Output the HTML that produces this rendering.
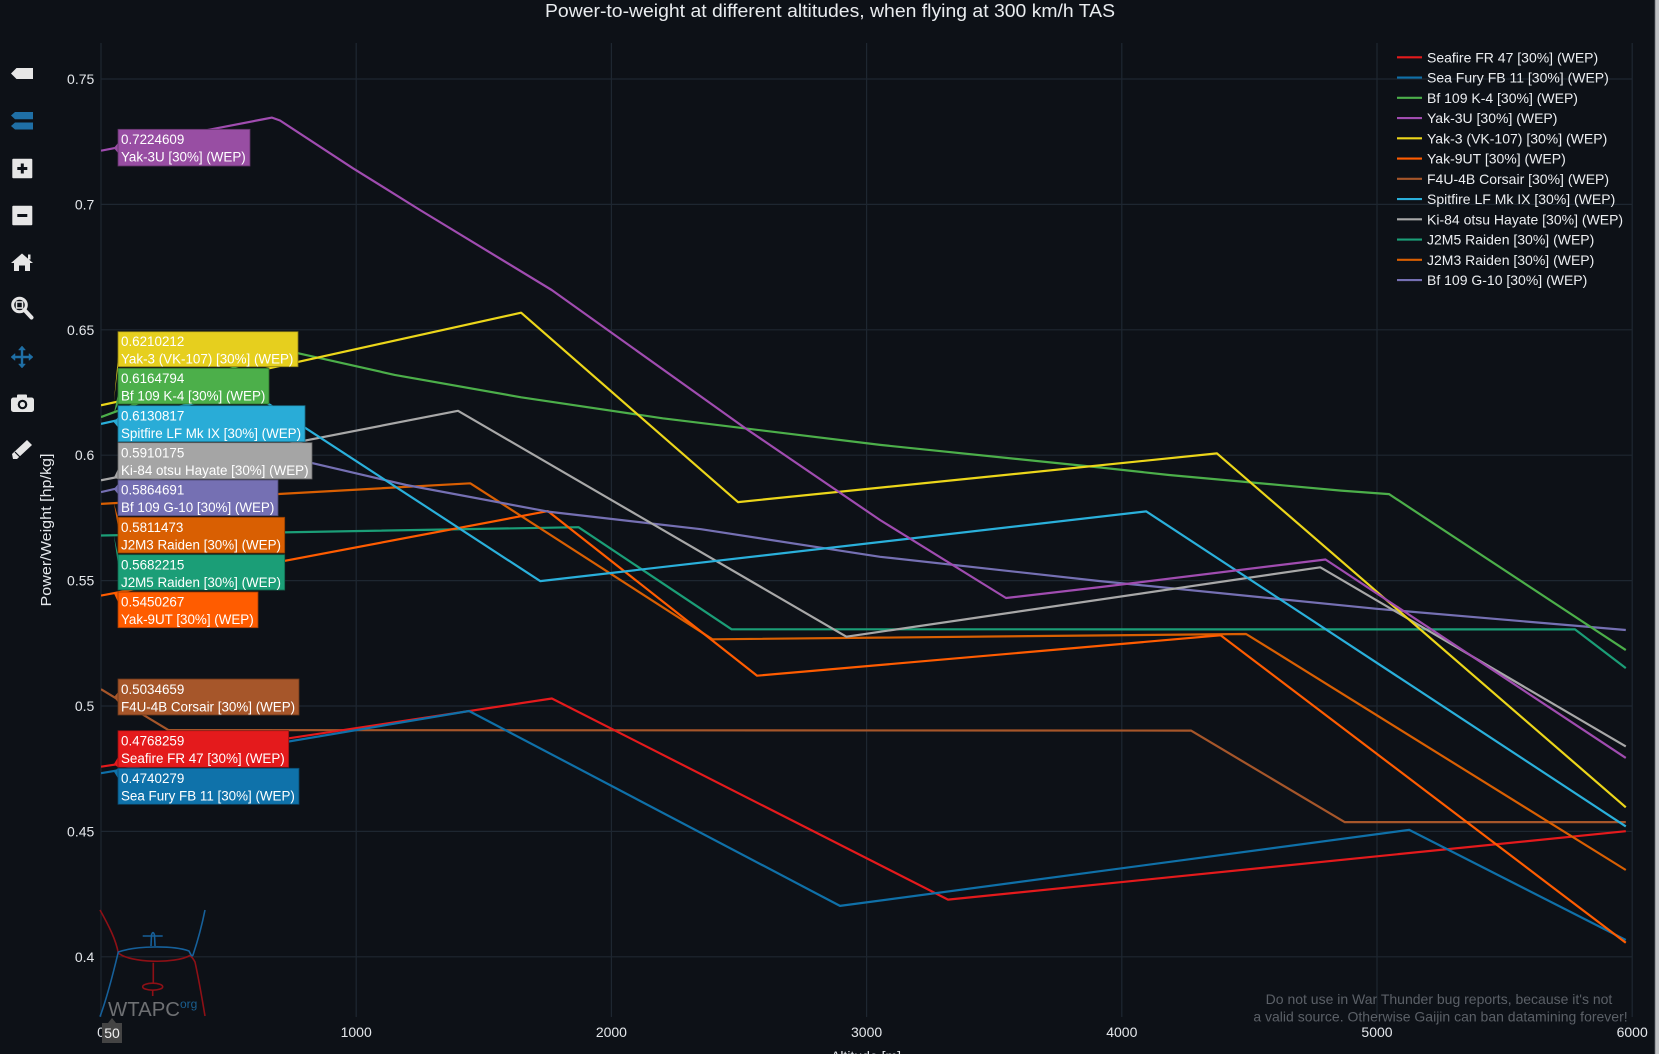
<!DOCTYPE html>
<html>
<head>
<meta charset="utf-8">
<style>
html,body{margin:0;padding:0;background:#0d1117;overflow:hidden;}
svg{display:block;font-family:"Liberation Sans",Arial,sans-serif;}
</style>
</head>
<body>
<svg width="1659" height="1054" viewBox="0 0 1659 1054" xmlns="http://www.w3.org/2000/svg">
<rect x="0" y="0" width="1659" height="1054" fill="#0d1117"/>

<!-- right edge strip -->
<rect x="1654" y="0" width="1.2" height="1054" fill="#2e3238"/>
<rect x="1655.2" y="0" width="3.8" height="1054" fill="#bfc1c4"/>

<!-- title -->
<text x="830" y="17" font-size="18" fill="#e9ecef" text-anchor="middle" textLength="570" lengthAdjust="spacingAndGlyphs">Power-to-weight at different altitudes, when flying at 300 km/h TAS</text>

<!-- grid -->
<g stroke="#1e2731" stroke-width="1.2">
<line x1="101" y1="43" x2="101" y2="1017"/>
<line x1="356.2" y1="43" x2="356.2" y2="1017"/>
<line x1="611.4" y1="43" x2="611.4" y2="1017"/>
<line x1="866.6" y1="43" x2="866.6" y2="1017"/>
<line x1="1121.8" y1="43" x2="1121.8" y2="1017"/>
<line x1="1377" y1="43" x2="1377" y2="1017"/>
<line x1="1632.2" y1="43" x2="1632.2" y2="1017"/>
<line x1="101" y1="79" x2="1632.2" y2="79"/>
<line x1="101" y1="204.4" x2="1632.2" y2="204.4"/>
<line x1="101" y1="329.8" x2="1632.2" y2="329.8"/>
<line x1="101" y1="455.2" x2="1632.2" y2="455.2"/>
<line x1="101" y1="580.6" x2="1632.2" y2="580.6"/>
<line x1="101" y1="706" x2="1632.2" y2="706"/>
<line x1="101" y1="831.4" x2="1632.2" y2="831.4"/>
<line x1="101" y1="956.8" x2="1632.2" y2="956.8"/>
</g>

<!-- y tick labels -->
<g font-size="14" fill="#e4e7eb" text-anchor="end">
<text x="94.3" y="84">0.75</text>
<text x="94.3" y="209.4">0.7</text>
<text x="94.3" y="334.8">0.65</text>
<text x="94.3" y="460.2">0.6</text>
<text x="94.3" y="585.6">0.55</text>
<text x="94.3" y="711">0.5</text>
<text x="94.3" y="836.4">0.45</text>
<text x="94.3" y="961.8">0.4</text>
</g>

<!-- x tick labels -->
<g font-size="14" fill="#e4e7eb" text-anchor="middle">
<text x="101" y="1037">0</text>
<text x="356.2" y="1037">1000</text>
<text x="611.4" y="1037">2000</text>
<text x="866.6" y="1037">3000</text>
<text x="1121.8" y="1037">4000</text>
<text x="1377" y="1037">5000</text>
<text x="1632.2" y="1037">6000</text>
</g>

<!-- axis titles -->
<text x="866" y="1061" font-size="14" fill="#e4e7eb" text-anchor="middle">Altitude [m]</text>
<text transform="translate(51,530) rotate(-90)" font-size="15" fill="#e4e7eb" text-anchor="middle" textLength="153" lengthAdjust="spacingAndGlyphs">Power/Weight [hp/kg]</text>

<!-- watermark -->
<g font-size="14" fill="#5b6067" text-anchor="middle">
<text x="1439" y="1004">Do not use in War Thunder bug reports, because it's not</text>
<text x="1440.5" y="1021.7">a valid source. Otherwise Gaijin can ban datamining forever!</text>
</g>

<!-- logo -->
<g fill="none" stroke-width="1.6">
<path d="M100,910 C109,926 116,940 118.3,953 C130,963 175,964 190,955.5 C193,958 194,960 195,962 C199,980 202,998 205,1016" stroke="#8e1016"/>
<path d="M100,1016.7 C108,995 114,970 118.3,952 C135,946 172,945 189,951 C191,955 192,957 193,955 C198,940 202,925 205,910" stroke="#16609a"/>
<line x1="142.7" y1="936" x2="162.7" y2="936" stroke="#16609a"/>
<path d="M151,946 L151.5,935 Q153,930 154.5,935 L155,946" stroke="#16609a"/>
<line x1="153.3" y1="962.7" x2="153.3" y2="983" stroke="#8e1016"/>
<ellipse cx="152.7" cy="986.7" rx="10" ry="3.5" stroke="#8e1016"/>
<line x1="152.7" y1="990.2" x2="152.7" y2="996" stroke="#8e1016"/>
</g>
<text x="108" y="1016" font-size="20" fill="#6e7073" textLength="72" lengthAdjust="spacingAndGlyphs">WTAPC</text>
<text x="180" y="1008" font-size="12" fill="#1a5f90">org</text>

<!-- series -->
<defs><clipPath id="pc"><rect x="101" y="43" width="1532" height="974"/></clipPath></defs>
<g clip-path="url(#pc)" fill="none" stroke-width="2.2" stroke-linejoin="round">
<polyline stroke="#a6562a" points="101,689.2 168.4,730.1 1191,730.6 1344.6,822.1 1625.8,822.1"/>
<polyline stroke="#e41a1c" points="101,766.7 551.9,698.5 948,899.6 1625.8,831.2"/>
<polyline stroke="#0f70a8" points="101,773.2 469,711 840,905.9 1409.2,829.9 1625.8,940"/>
<polyline stroke="#1b9e77" points="101,535.5 578.5,527.2 731.6,629.3 1575,629.4 1625.8,668.1"/>
<polyline stroke="#d95f02" points="101,503.9 470.3,483.3 712.5,639.3 1246.1,634 1625.8,870"/>
<polyline stroke="#ff5c00" points="101,595.6 547.9,511.1 757.1,675.7 1220.6,635.3 1625.8,942.8"/>
<polyline stroke="#7570b3" points="101,492.1 266.9,453.9 312.6,463.2 406.2,485 547.9,511.6 701,529.2 880.1,556.8 1100.1,581.1 1375.5,608.7 1625.8,630"/>
<polyline stroke="#a8a8a8" points="101,480.3 458,410.8 846.4,636.7 1320.3,567.3 1625.8,746.4"/>
<polyline stroke="#2ab0db" points="101,423.9 249,391.2 540.2,581.1 1146.3,511.4 1625.8,826.4"/>
<polyline stroke="#4caf4a" points="101,417.1 284.7,348.6 299,353.4 394.7,374.9 521.1,397.3 662.7,418.3 880.1,444.9 1100.1,467.5 1169,475 1282.6,485.3 1341,490.6 1389,494.1 1625.8,650.1"/>
<polyline stroke="#ecd61a" points="101,405.3 521.1,312.7 738,502.1 1217,453.4 1625.8,807.3"/>
<polyline stroke="#a04cb0" points="101,150.7 262,119.5 272,117.6 280,120.5 353,168.3 420,210 551.7,290 745,428 880,520 1006,598 1100,587.1 1325.5,559.5 1625.8,757.9"/>
</g>

<!-- hover labels -->
<g font-size="13.4" fill="#ffffff">
<polygon points="113.8,148 118,143 118,153" fill="#984ea3"/>
<rect x="118" y="129.3" width="132" height="36.7" fill="#984ea3" stroke="#5e3366" stroke-width="0.8"/>
<text x="121" y="144">0.7224609</text><text x="121" y="161.5">Yak-3U [30%] (WEP)</text>

<polygon points="113.8,402.5 118,356.7 118,366.7" fill="#e6cf1e"/>
<rect x="118" y="331.7" width="180" height="35" fill="#e6cf1e" stroke="#8c7e16" stroke-width="0.8"/>
<text x="121" y="346">0.6210212</text><text x="121" y="363.5">Yak-3 (VK-107) [30%] (WEP)</text>

<polygon points="113.8,413.8 118,394 118,404" fill="#4caf4a"/>
<rect x="118" y="368.3" width="151" height="35.7" fill="#4caf4a" stroke="#2f6e2e" stroke-width="0.8"/>
<text x="121" y="383">0.6164794</text><text x="121" y="400.5">Bf 109 K-4 [30%] (WEP)</text>

<polygon points="113.8,422.3 118,417.3 118,427.3" fill="#29acd7"/>
<rect x="118" y="405.7" width="187" height="36" fill="#29acd7" stroke="#1a6d88" stroke-width="0.8"/>
<text x="121" y="420.5">0.6130817</text><text x="121" y="438">Spitfire LF Mk IX [30%] (WEP)</text>

<polygon points="113.8,477.8 118,469 118,479" fill="#a5a5a5"/>
<rect x="118" y="442.7" width="194" height="36.3" fill="#a5a5a5" stroke="#666" stroke-width="0.8"/>
<text x="121" y="457.5">0.5910175</text><text x="121" y="475">Ki-84 otsu Hayate [30%] (WEP)</text>

<polygon points="113.8,489.1 118,484.1 118,494.1" fill="#7570b3"/>
<rect x="118" y="480" width="160" height="35.7" fill="#7570b3" stroke="#4a4672" stroke-width="0.8"/>
<text x="121" y="494.7">0.5864691</text><text x="121" y="512.2">Bf 109 G-10 [30%] (WEP)</text>

<polygon points="113.8,502.6 118,517.3 118,527.3" fill="#d95f02"/>
<rect x="118" y="517.3" width="166.7" height="35.7" fill="#d95f02" stroke="#8a3c01" stroke-width="0.8"/>
<text x="121" y="532">0.5811473</text><text x="121" y="549.5">J2M3 Raiden [30%] (WEP)</text>

<polygon points="113.8,535 118,554.7 118,564.7" fill="#1b9e77"/>
<rect x="118" y="554.7" width="166.7" height="35.3" fill="#1b9e77" stroke="#11644b" stroke-width="0.8"/>
<text x="121" y="569.3">0.5682215</text><text x="121" y="586.8">J2M5 Raiden [30%] (WEP)</text>

<polygon points="113.8,593.1 118,592 118,602" fill="#ff5c00"/>
<rect x="118" y="592" width="140" height="35.7" fill="#ff5c00" stroke="#a23a00" stroke-width="0.8"/>
<text x="121" y="606.7">0.5450267</text><text x="121" y="624.2">Yak-9UT [30%] (WEP)</text>

<polygon points="113.8,697.2 118,692.2 118,702.2" fill="#a6562a"/>
<rect x="118" y="679" width="181" height="36" fill="#a6562a" stroke="#69361a" stroke-width="0.8"/>
<text x="121" y="693.8">0.5034659</text><text x="121" y="711.3">F4U-4B Corsair [30%] (WEP)</text>

<polygon points="113.8,764.2 118,757.3 118,767.3" fill="#e41a1c"/>
<rect x="118" y="730.7" width="170.7" height="36.6" fill="#e41a1c" stroke="#901012" stroke-width="0.8"/>
<text x="121" y="745.5">0.4768259</text><text x="121" y="763">Seafire FR 47 [30%] (WEP)</text>

<polygon points="113.8,771.5 118,768.3 118,778.3" fill="#0f72aa"/>
<rect x="118" y="768.3" width="181" height="36" fill="#0f72aa" stroke="#09486b" stroke-width="0.8"/>
<text x="121" y="783">0.4740279</text><text x="121" y="800.5">Sea Fury FB 11 [30%] (WEP)</text>
</g>

<!-- x hover label -->
<polygon points="112,1018 108,1023 116,1023" fill="#444"/>
<rect x="102" y="1023" width="20" height="20" fill="#444"/>
<text x="112" y="1038" font-size="14" fill="#f0f0f0" text-anchor="middle">50</text>

<!-- legend -->
<g stroke-width="2.2">
<line x1="1397" y1="57.3" x2="1422" y2="57.3" stroke="#e41a1c"/>
<line x1="1397" y1="77.55" x2="1422" y2="77.55" stroke="#0f70a8"/>
<line x1="1397" y1="97.8" x2="1422" y2="97.8" stroke="#4caf4a"/>
<line x1="1397" y1="118.05" x2="1422" y2="118.05" stroke="#a04cb0"/>
<line x1="1397" y1="138.3" x2="1422" y2="138.3" stroke="#ecd61a"/>
<line x1="1397" y1="158.55" x2="1422" y2="158.55" stroke="#ff5c00"/>
<line x1="1397" y1="178.8" x2="1422" y2="178.8" stroke="#a6562a"/>
<line x1="1397" y1="199.05" x2="1422" y2="199.05" stroke="#2ab0db"/>
<line x1="1397" y1="219.3" x2="1422" y2="219.3" stroke="#a8a8a8"/>
<line x1="1397" y1="239.55" x2="1422" y2="239.55" stroke="#1b9e77"/>
<line x1="1397" y1="259.8" x2="1422" y2="259.8" stroke="#d95f02"/>
<line x1="1397" y1="280.05" x2="1422" y2="280.05" stroke="#7570b3"/>
</g>
<g font-size="14" fill="#eceef1">
<text x="1427" y="62.3">Seafire FR 47 [30%] (WEP)</text>
<text x="1427" y="82.55">Sea Fury FB 11 [30%] (WEP)</text>
<text x="1427" y="102.8">Bf 109 K-4 [30%] (WEP)</text>
<text x="1427" y="123.05">Yak-3U [30%] (WEP)</text>
<text x="1427" y="143.3">Yak-3 (VK-107) [30%] (WEP)</text>
<text x="1427" y="163.55">Yak-9UT [30%] (WEP)</text>
<text x="1427" y="183.8">F4U-4B Corsair [30%] (WEP)</text>
<text x="1427" y="204.05">Spitfire LF Mk IX [30%] (WEP)</text>
<text x="1427" y="224.3">Ki-84 otsu Hayate [30%] (WEP)</text>
<text x="1427" y="244.55">J2M5 Raiden [30%] (WEP)</text>
<text x="1427" y="264.8">J2M3 Raiden [30%] (WEP)</text>
<text x="1427" y="285.05">Bf 109 G-10 [30%] (WEP)</text>
</g>

<!-- toolbar icons -->
<g fill="#e6e6e6">
<polygon points="11,73.5 16.5,68 33,68 33,79 16.5,79"/>
<rect x="12.3" y="158.7" width="20" height="19.6" rx="1"/>
<rect x="12.3" y="205.7" width="20" height="19.6" rx="1"/>
<polygon points="22,253.5 33,263 30,263 30,271 25,271 25,265.5 19,265.5 19,271 14,271 14,263 11,263"/>
<rect x="28" y="254.5" width="2.5" height="5"/>
<circle cx="19.5" cy="305" r="6.8" fill="none" stroke="#e6e6e6" stroke-width="3"/>
<rect x="16.5" y="302" width="6" height="6" fill="none" stroke="#e6e6e6" stroke-width="1.5"/>
<line x1="24.5" y1="310" x2="31.5" y2="317.5" stroke="#e6e6e6" stroke-width="4" stroke-linecap="round"/>
<rect x="11" y="397.5" width="23" height="14.5" rx="2.5"/>
<rect x="17" y="394.5" width="10" height="4" rx="1"/>
<polygon points="13,459 12,454 27,440 32,445 17,459"/>
</g>
<g fill="#0d1117">
<rect x="17.3" y="167" width="10" height="3"/>
<rect x="20.8" y="163.5" width="3" height="10"/>
<rect x="17.3" y="214" width="10" height="3"/>
<circle cx="22.5" cy="404.5" r="4.8"/>
<line x1="15" y1="452" x2="20" y2="457" stroke="#0d1117" stroke-width="1.2"/>
</g>
<circle cx="22.5" cy="404.5" r="2.6" fill="#e6e6e6"/>
<g fill="#1f6fa5">
<polygon points="11,115.5 15,112 33,112 33,119.3 15,119.3"/>
<polygon points="11,126 15,122.5 33,122.5 33,129.5 15,129.5"/>
</g>
<g stroke="#1f6fa5" stroke-width="2.4" fill="#1f6fa5">
<line x1="13" y1="357" x2="31" y2="357"/>
<line x1="22" y1="348" x2="22" y2="366"/>
<polygon points="11,357 15,353.5 15,360.5" stroke-width="0.5"/>
<polygon points="33,357 29,353.5 29,360.5" stroke-width="0.5"/>
<polygon points="22,346 18.5,350 25.5,350" stroke-width="0.5"/>
<polygon points="22,368 18.5,364 25.5,364" stroke-width="0.5"/>
</g>
</svg>
</body>
</html>
